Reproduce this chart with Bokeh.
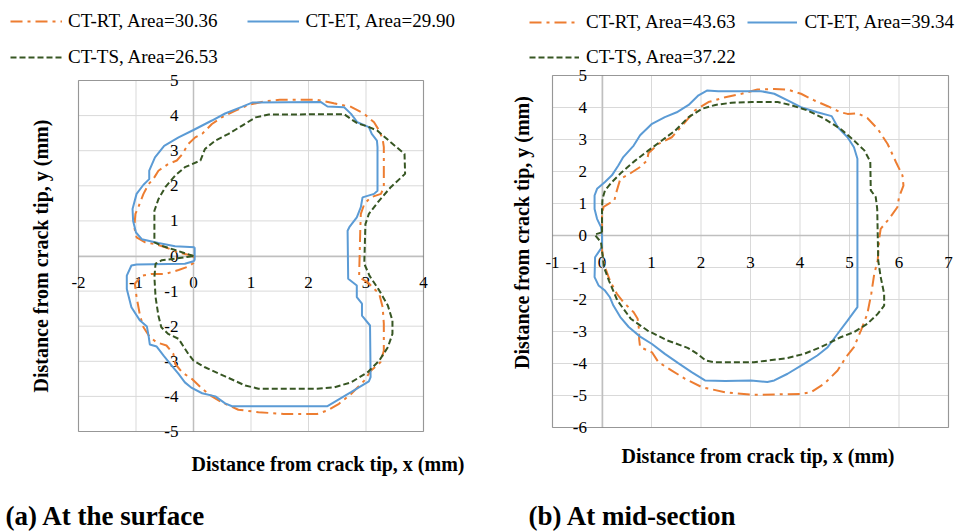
import math
from bokeh.plotting import figure
from bokeh.models import Legend, LegendItem, Label, Range1d, BoxAnnotation, PrintfTickFormatter
from bokeh.layouts import row
from bokeh.embed import file_html
from bokeh.resources import INLINE

# ---------------- data ----------------
SERIES_NAMES = ["CT-RT", "CT-ET", "CT-TS"]
AREA_SURFACE = ["30.36", "29.90", "26.53"]
AREA_MID = ["43.63", "39.34", "37.22"]

X_TICKS_A = [-2, -1, 0, 1, 2, 3, 4]
Y_TICKS_A = [-5, -4, -3, -2, -1, 0, 1, 2, 3, 4, 5]
X_TICKS_B = [-1, 0, 1, 2, 3, 4, 5, 6, 7]
Y_TICKS_B = [-6, -5, -4, -3, -2, -1, 0, 1, 2, 3, 4, 5]

# (a) at the surface
A_RT_X = [0.00, -0.26, -0.49, -0.67, -0.84, -0.99, -1.03, -1.01, -0.96, -0.87, -0.78, -0.70, -0.61, -0.44,
          -0.29, -0.20, -0.09, 0.03, 0.15, 0.32, 0.49, 0.73, 0.96, 1.25, 1.50, 2.15, 2.44, 2.74, 2.97, 3.14,
          3.23, 3.29, 3.31, 3.31, 3.26, 3.08, 2.97, 2.91, 2.90, 2.88, 3.03, 3.23, 3.29, 3.31, 3.31, 3.25,
          3.09, 2.97, 2.74, 2.53, 2.33, 2.15, 1.57, 1.13, 0.78, 0.49, 0.32, 0.15, -0.03, -0.20, -0.32, -0.35,
          -0.47, -0.64, -0.76, -0.87, -0.93, -0.99, -1.02, -0.90, -0.73, -0.49, -0.26, -0.09, 0.00, 0.00]
A_RT_Y = [0.00, 0.10, 0.25, 0.34, 0.39, 0.53, 0.82, 1.20, 1.39, 1.77, 2.05, 2.19, 2.43, 2.62,
          2.72, 2.89, 3.19, 3.38, 3.48, 3.76, 3.95, 4.14, 4.31, 4.41, 4.45, 4.45, 4.35, 4.25, 4.05, 3.81,
          3.57, 3.33, 3.10, 1.96, 1.77, 1.67, 1.48, 1.20, 0.72, -0.60, -0.75, -1.08, -1.46, -1.93, -2.70, -3.03,
          -3.26, -3.55, -3.93, -4.21, -4.40, -4.50, -4.50, -4.45, -4.38, -4.17, -4.00, -3.78, -3.50, -3.31, -3.07, -2.79,
          -2.55, -2.46, -2.31, -2.03, -1.70, -1.17, -0.79, -0.56, -0.51, -0.51, -0.40, -0.30, -0.20, 0.00]

A_ET_X = [0.02, -0.32, -0.61, -0.90, -1.00, -1.05, -1.06, -0.99, -0.87, -0.77, -0.77, -0.67, -0.51, -0.26,
          0.00, 0.32, 0.55, 0.84, 1.02, 2.21, 2.33, 2.62, 2.74, 2.85, 3.05, 3.10, 3.19, 3.20, 3.20, 3.14,
          2.94, 2.91, 2.84, 2.71, 2.68, 2.69, 2.84, 2.84, 2.93, 2.93, 3.07, 3.08, 3.05, 2.74, 2.33, 0.67,
          0.55, 0.38, 0.15, -0.03, -0.15, -0.26, -0.38, -0.52, -0.64, -0.76, -0.78, -0.81, -0.93, -1.08, -1.16, -1.16,
          -1.08, -0.99, -0.15, 0.00, 0.02, 0.02]
A_ET_Y = [0.25, 0.28, 0.37, 0.48, 0.67, 1.00, 1.34, 1.77, 2.03, 2.19, 2.43, 2.81, 3.14, 3.38,
          3.59, 3.86, 4.06, 4.25, 4.37, 4.39, 4.26, 4.24, 4.05, 3.81, 3.67, 3.48, 3.29, 3.10, 1.86, 1.77,
          1.67, 1.39, 1.10, 0.82, 0.72, -0.65, -0.84, -1.17, -1.36, -1.70, -1.98, -3.45, -3.57, -3.88, -4.28, -4.28,
          -4.20, -4.00, -3.91, -3.76, -3.60, -3.36, -3.12, -2.84, -2.58, -2.52, -2.29, -2.01, -1.84, -1.46, -0.94, -0.56,
          -0.27, -0.24, -0.22, -0.15, -0.11, 0.25]

A_TS_X = [0.00, -0.32, -0.55, -0.68, -0.68, -0.68, -0.61, -0.49, -0.32, -0.15, 0.12, 0.20, 0.38, 0.61,
          0.84, 1.08, 1.31, 2.62, 2.74, 2.85, 3.03, 3.20, 3.43, 3.67, 3.68, 3.43, 3.23, 3.05, 2.99, 2.97,
          3.06, 3.23, 3.38, 3.46, 3.46, 3.38, 3.23, 3.03, 2.74, 2.45, 2.15, 1.13, 0.90, 0.55, 0.20, 0.00,
          -0.09, -0.26, -0.44, -0.56, -0.61, -0.66, -0.68, -0.66, -0.55, -0.30, 0.00]
A_TS_Y = [0.00, 0.17, 0.29, 0.39, 0.91, 1.29, 1.62, 1.96, 2.29, 2.53, 2.72, 3.05, 3.29, 3.48,
          3.71, 3.95, 4.03, 4.04, 3.90, 3.78, 3.69, 3.57, 3.24, 2.91, 2.34, 1.96, 1.58, 1.20, 0.91, -0.22,
          -0.56, -0.98, -1.41, -1.84, -2.22, -2.60, -2.98, -3.31, -3.60, -3.74, -3.78, -3.78, -3.69, -3.43, -3.17, -2.98,
          -2.79, -2.36, -2.22, -2.03, -1.70, -1.17, -0.60, -0.22, -0.12, -0.07, 0.00]

# (b) at mid-section
B_RT_X = [0.00, 0.00, 0.03, 0.13, 0.25, 0.28, 0.37, 0.53, 0.77, 0.91, 0.94, 1.14, 1.41, 1.65,
          1.88, 2.15, 2.49, 2.82, 3.14, 3.48, 3.75, 4.02, 4.29, 4.56, 4.82, 4.96, 5.16, 5.36, 5.57, 5.77,
          5.94, 6.07, 6.09, 6.00, 5.97, 5.80, 5.63, 5.60, 5.57, 5.50, 5.44, 5.36, 5.23, 5.09, 4.93, 4.76,
          4.49, 4.22, 4.02, 3.07, 2.49, 2.02, 1.68, 1.41, 1.14, 1.01, 0.77, 0.75, 0.75, 0.72, 0.64, 0.43,
          0.30, 0.16, 0.06, 0.00, 0.00]
B_RT_Y = [0.00, 0.63, 0.89, 0.99, 1.09, 1.30, 1.77, 1.90, 2.14, 2.34, 2.58, 2.86, 3.07, 3.49,
          3.91, 4.17, 4.32, 4.43, 4.56, 4.58, 4.56, 4.43, 4.22, 4.04, 3.85, 3.80, 3.82, 3.67, 3.33, 2.86,
          2.29, 1.88, 1.56, 1.20, 0.89, 0.52, 0.21, -0.10, -0.78, -1.20, -1.82, -2.45, -2.97, -3.49, -3.80, -4.22,
          -4.63, -4.90, -4.95, -4.98, -4.90, -4.74, -4.48, -4.22, -3.96, -3.65, -3.49, -3.23, -2.97, -2.60, -2.40, -2.08,
          -1.82, -1.41, -0.99, -0.47, 0.00]

B_ET_X = [0.00, -0.02, -0.10, -0.15, -0.15, -0.10, 0.06, 0.20, 0.33, 0.43, 0.64, 0.77, 1.01, 1.27,
          1.51, 1.75, 1.95, 2.12, 2.35, 3.21, 3.48, 3.75, 4.02, 4.35, 4.64, 4.76, 4.96, 5.09, 5.16, 5.16,
          4.96, 4.76, 4.56, 4.35, 4.08, 3.75, 3.48, 3.34, 3.01, 2.49, 2.08, 1.81, 1.54, 1.27, 1.01, 0.77,
          0.54, 0.37, 0.23, 0.16, 0.06, -0.07, -0.15, -0.14, -0.07, 0.00, 0.00]
B_ET_Y = [0.00, 0.26, 0.52, 0.83, 1.25, 1.46, 1.67, 1.88, 2.19, 2.45, 2.81, 3.13, 3.49, 3.70,
          3.85, 4.08, 4.38, 4.53, 4.51, 4.51, 4.43, 4.22, 4.01, 3.85, 3.73, 3.39, 3.07, 2.76, 2.40, -2.24,
          -2.66, -3.07, -3.49, -3.75, -4.01, -4.32, -4.53, -4.58, -4.53, -4.55, -4.53, -4.27, -3.99, -3.70, -3.39, -3.16,
          -2.86, -2.55, -2.19, -1.93, -1.72, -1.56, -1.30, -0.68, -0.52, -0.36, 0.00]

B_TS_X = [0.00, 0.00, 0.00, 0.01, 0.06, 0.20, 0.40, 0.67, 0.94, 1.21, 1.48, 1.75, 2.02, 2.29,
          2.62, 3.03, 3.55, 3.81, 4.15, 4.49, 4.82, 5.09, 5.30, 5.42, 5.43, 5.53, 5.56, 5.57, 5.58, 5.63,
          5.70, 5.70, 5.57, 5.36, 5.09, 4.82, 4.42, 4.08, 3.75, 3.07, 2.26, 2.10, 1.93, 1.73, 1.32, 0.92,
          0.58, 0.31, 0.14, 0.04, 0.00, -0.02, -0.15, 0.00]
B_TS_Y = [0.10, 0.42, 0.83, 1.15, 1.41, 1.67, 1.98, 2.34, 2.66, 2.97, 3.28, 3.70, 3.96, 4.08,
          4.15, 4.17, 4.17, 4.08, 3.91, 3.65, 3.33, 2.97, 2.66, 2.31, 1.41, 1.20, 0.83, 0.05, -0.78, -1.30,
          -1.82, -2.19, -2.45, -2.76, -3.02, -3.18, -3.49, -3.70, -3.83, -3.96, -3.96, -3.91, -3.70, -3.51, -3.28, -2.97,
          -2.60, -2.03, -1.41, -0.99, -0.47, -0.21, 0.03, 0.10]

# ---------------- styling ----------------
FONT = "Liberation Serif"
COLORS = ["#ED7D31", "#5B9BD5", "#375623"]
DASHES = ["12 5 3 5", "solid", "6 3"]
AXIS_TITLE = "Distance from crack tip, {} (mm)"
H = 532


def make_panel(width, xticks, yticks, box_px, xs, ys, areas, leg_cfg, texts):
    # box_px: pixel position of the plotting box inside this figure (left, right, top, bottom)
    x0, x1 = xticks[0], xticks[-1]
    y0, y1 = yticks[0], yticks[-1]
    bl, br, bt, bb = box_px
    sx = (br - bl) / (x1 - x0)
    sy = (bb - bt) / (y1 - y0)
    xr = Range1d(x0 - bl / sx, x1 + (width - br) / sx)
    yr = Range1d(y0 - (H - bb) / sy, y1 + bt / sy)

    p = figure(width=width, height=H, x_range=xr, y_range=yr,
               output_backend="svg", toolbar_location=None, title=None,
               min_border_left=0, min_border_right=0, min_border_top=0, min_border_bottom=0)
    p.background_fill_color = "white"
    p.border_fill_color = "white"
    p.outline_line_color = None
    p.grid.visible = False

    # grid lines limited to the plotting box
    gx = [t for t in xticks]
    gy = [t for t in yticks]
    p.segment(x0=gx, y0=[y0] * len(gx), x1=gx, y1=[y1] * len(gx), line_color="#d9d9d9", line_width=1, level="underlay")
    p.segment(x0=[x0] * len(gy), y0=gy, x1=[x1] * len(gy), y1=gy, line_color="#d9d9d9", line_width=1, level="underlay")

    for ax, ticks, b in ((p.xaxis[0], xticks, (x0, x1)), (p.yaxis[0], yticks, (y0, y1))):
        ax.ticker = ticks
        ax.bounds = b
        ax.fixed_location = 0
        ax.formatter = PrintfTickFormatter(format="%d")
        ax.axis_line_color = "#bfbfbf"
        ax.axis_line_width = 1.5
        ax.major_tick_line_color = None
        ax.minor_tick_line_color = None
        ax.major_tick_out = 0
        ax.major_tick_in = 0
        ax.major_label_text_font = FONT
        ax.major_label_text_font_size = "17px"
        ax.major_label_text_color = "#000000"
        ax.level = "underlay"
    p.xaxis[0].major_label_standoff = 21
    p.yaxis[0].major_label_standoff = 15

    rends = []
    for i in range(3):
        r = p.line(xs[i], ys[i], line_color=COLORS[i], line_width=2, line_dash=DASHES[i])
        rends.append(r)

    p.add_layout(BoxAnnotation(left=x0, right=x1, bottom=y0, top=y1, fill_alpha=0,
                               line_color="black", line_width=1.2))

    gw, stand, spacing, (lx, ly1, ly2) = leg_cfg
    common = dict(orientation="horizontal", glyph_width=gw, glyph_height=20, label_height=20,
                  label_standoff=stand, spacing=spacing, padding=0, margin=0,
                  border_line_alpha=0, background_fill_alpha=0,
                  label_text_font=FONT, label_text_font_size="19px", label_text_color="#000000")
    leg1 = Legend(items=[LegendItem(label=f"{SERIES_NAMES[i]}, Area={areas[i]}", renderers=[rends[i]]) for i in (0, 1)],
                  location=(lx, ly1), **common)
    leg2 = Legend(items=[LegendItem(label=f"{SERIES_NAMES[2]}, Area={areas[2]}", renderers=[rends[2]])],
                  location=(lx, ly2), **common)
    p.add_layout(leg1, "center")
    p.add_layout(leg2, "center")

    (xlx, xly), (ylx, yly), (cx, cy, ctext) = texts
    p.add_layout(Label(x=xlx, y=H - xly, x_units="screen", y_units="screen", text=AXIS_TITLE.format("x"),
                       text_font=FONT, text_font_style="bold", text_font_size="20px",
                       text_align="center", text_baseline="middle", text_color="#000000"))
    p.add_layout(Label(x=ylx, y=H - yly, x_units="screen", y_units="screen", text=AXIS_TITLE.format("y"),
                       angle=math.pi / 2, text_font=FONT, text_font_style="bold", text_font_size="20px",
                       text_align="center", text_baseline="middle", text_color="#000000"))
    p.add_layout(Label(x=cx, y=H - cy, x_units="screen", y_units="screen", text=ctext,
                       text_font=FONT, text_font_style="bold", text_font_size="27px",
                       text_align="left", text_baseline="middle", text_color="#000000"))
    return p


p1 = make_panel(480, X_TICKS_A, Y_TICKS_A, (78, 423, 80, 431),
                [A_RT_X, A_ET_X, A_TS_X], [A_RT_Y, A_ET_Y, A_TS_Y], AREA_SURFACE,
                (52, 6, 30, (10, H - 32, H - 68)),
                ((327.5, 463), (40, 255.5), (5, 515, "(a)  At the surface")))
p2 = make_panel(479, X_TICKS_B, Y_TICKS_B, (72, 468, 75, 427),
                [B_RT_X, B_ET_X, B_TS_X], [B_RT_Y, B_ET_Y, B_TS_Y], AREA_MID,
                (50, 7, 12, (49, H - 33, H - 68)),
                ((277.5, 455), (41, 232), (48, 515, "(b)  At mid-section")))

layout = row(p1, p2)
open("out.html", "w").write(file_html(layout, INLINE))
